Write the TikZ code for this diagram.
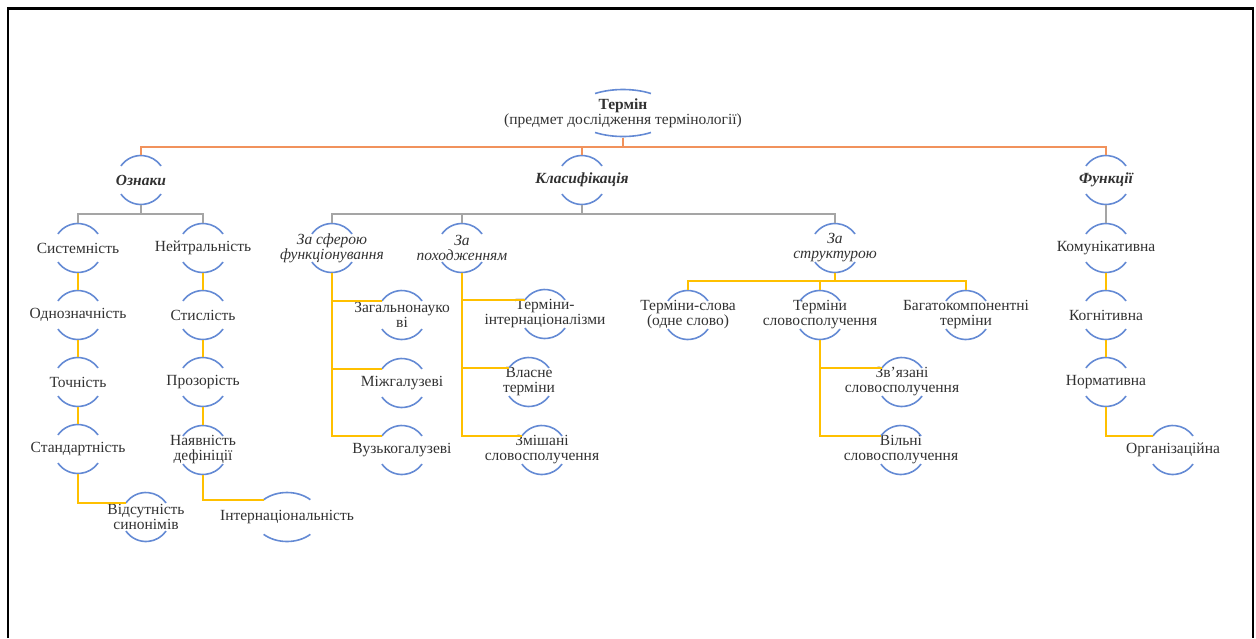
\documentclass[tikz,border=0pt]{standalone}
\usepackage{fontspec}
\setmainfont{Liberation Serif}
\usepackage{tikz}
\usepackage{xcolor}
\definecolor{tmblue}{RGB}{100,138,212}
\definecolor{tmorange}{RGB}{241,146,92}
\definecolor{tmgray}{RGB}{165,165,165}
\definecolor{tmgold}{RGB}{255,192,0}
\definecolor{tmtext}{RGB}{50,50,50}
\newcommand{\termfont}{\fontsize{15.5}{15}\selectfont}
\tikzstyle{term} = [rectangle, minimum height=49pt, inner sep=0pt, align=center, text=tmtext, font=\termfont]
\tikzstyle{head} = [term, font=\termfont\bfseries\itshape]
\tikzstyle{sub} = [term, font=\termfont\itshape]
\tikzstyle{arcline} = [line width=1.6pt, color=tmblue]
\tikzstyle{toplink} = [line width=1.8pt, color=tmorange]
\tikzstyle{graylink} = [line width=1.8pt, color=tmgray]
\tikzstyle{goldlink} = [line width=1.8pt, color=tmgold]
\tikzstyle{frame} = [line width=2.3pt, color=black]

\begin{document}
\begin{tikzpicture}[x=1pt, y=1pt]
\useasboundingbox (0,0) rectangle (1256,-638);
\draw[frame] (8,-638) -- (8,-8.5) -- (1253,-8.5) -- (1253,-638);

% root and the three branches
\node (root) [term] at (623,-113) {\textbf{Термін}\\(предмет дослідження термінології)};
\node (oznaky) [head] at (141,-180) {Ознаки};
\node (klas) [head] at (582,-180) {Класифікація};
\node (funk) [head] at (1106,-180) {Функції};

% Ознаки
\node (sys) [term] at (78,-248) {Системність};
\node (odn) [term] at (78,-315) {Однозначність};
\node (toch) [term] at (78,-382) {Точність};
\node (stand) [term] at (78,-449) {Стандартність};
\node (vidsut) [term] at (146,-517) {Відсутність\\синонімів};
\node (neut) [term] at (203,-248) {Нейтральність};
\node (styl) [term] at (203,-315) {Стислість};
\node (proz) [term] at (203,-382) {Прозорість};
\node (nayav) [term] at (203,-450) {Наявність\\дефініції};
\node (intern) [term] at (287,-517) {Інтернаціональність};

% Класифікація
\node (sfera) [sub] at (332,-248) {За сферою\\функціонування};
\node (zag) [term] at (402,-315) {Загальнонауко\\ві};
\node (mizh) [term] at (402,-383) {Міжгалузеві};
\node (vuz) [term] at (402,-450) {Вузькогалузеві};
\node (pokh) [sub] at (462,-248) {За\\походженням};
\node (tint) [term] at (545,-314) {Терміни-\\інтернаціоналізми};
\node (vlasne) [term] at (529,-382) {Власне\\терміни};
\node (zmish) [term] at (542,-450) {Змішані\\словосполучення};
\node (strukt) [sub] at (835,-248) {За\\структурою};
\node (tslova) [term] at (688,-315) {Терміни-слова\\(одне слово)};
\node (tslov) [term] at (820,-315) {Терміни\\словосполучення};
\node (bagato) [term] at (966,-315) {Багатокомпонентні\\терміни};
\node (zvyaz) [term] at (902,-382) {Зв’язані\\словосполучення};
\node (vilni) [term] at (901,-450) {Вільні\\словосполучення};

% Функції
\node (komun) [term] at (1106,-248) {Комунікативна};
\node (kogn) [term] at (1106,-315) {Когнітивна};
\node (norm) [term] at (1106,-382) {Нормативна};
\node (org) [term] at (1173,-450) {Організаційна};

% arcs over and under the terms
\foreach \n in {oznaky,klas,funk,sys,odn,toch,stand,vidsut,neut,styl,proz,nayav,sfera,zag,mizh,vuz,pokh,tint,vlasne,zmish,strukt,tslova,tslov,bagato,zvyaz,vilni,komun,kogn,norm,org} {
  \draw[arcline] ([shift={(145:24.5)}]\n.center) arc[start angle=145, end angle=35, radius=24.5];
  \draw[arcline] ([shift={(215:24.5)}]\n.center) arc[start angle=215, end angle=325, radius=24.5];
  \coordinate (\n-in) at ([shift={(145:24.5)}]\n.center);
}
\draw[arcline] ([shift={(124:50 and 23.5)}]root.center) arc[start angle=124, end angle=56, x radius=50, y radius=23.5];
\draw[arcline] ([shift={(236:50 and 23.5)}]root.center) arc[start angle=236, end angle=304, x radius=50, y radius=23.5];
\draw[arcline] ([shift={(135:33 and 24.5)}]intern.center) arc[start angle=135, end angle=45, x radius=33, y radius=24.5];
\draw[arcline] ([shift={(225:33 and 24.5)}]intern.center) arc[start angle=225, end angle=315, x radius=33, y radius=24.5];
\coordinate (intern-in) at ([shift={(135:33 and 24.5)}]intern.center);

% connectors
\foreach \n in {oznaky,klas,funk} \draw[toplink] (root.south) -- ++(0,-9.5) -| (\n.north);
\foreach \n in {sys,neut} \draw[graylink] (oznaky.south) -- ++(0,-9.5) -| (\n.north);
\foreach \n in {sfera,pokh,strukt} \draw[graylink] (klas.south) -- ++(0,-9.5) -| (\n.north);
\draw[graylink] (funk.south) -- (komun.north);
\foreach \a/\b in {sys/odn,odn/toch,toch/stand,neut/styl,styl/proz,proz/nayav,komun/kogn,kogn/norm}
  \draw[goldlink] (\a.south) -- (\b.north);
\foreach \a/\b in {stand/vidsut,nayav/intern,norm/org,sfera/zag,sfera/mizh,sfera/vuz,pokh/tint,pokh/vlasne,pokh/zmish,tslov/zvyaz,tslov/vilni}
  \draw[goldlink] (\a.south) |- (\b-in);
\foreach \n in {tslova,tslov,bagato} \draw[goldlink] (strukt.south) -- ++(0,-8.5) -| (\n.north);
\end{tikzpicture}
\end{document}
